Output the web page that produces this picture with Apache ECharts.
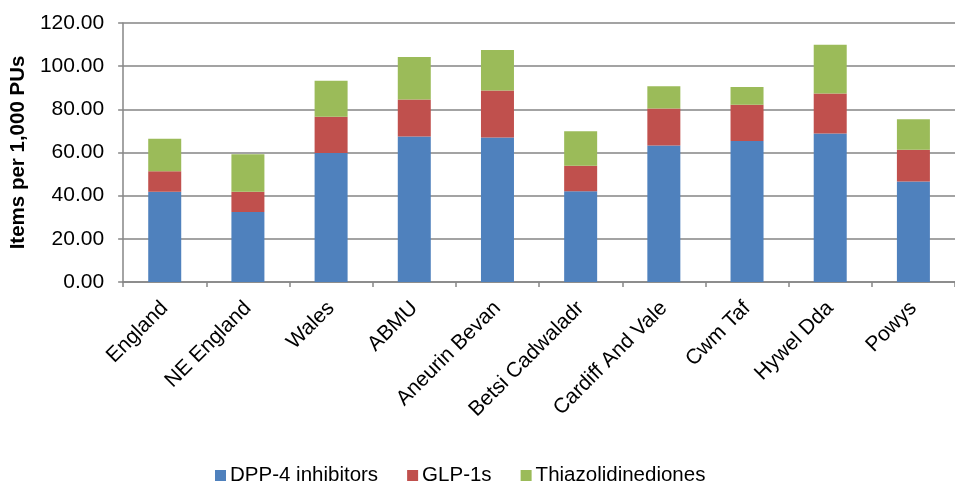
<!DOCTYPE html>
<html>
<head>
<meta charset="utf-8">
<script src="https://cdn.jsdelivr.net/npm/echarts@6/dist/echarts.min.js"></script>
<style>
html,body{margin:0;padding:0;background:#fff;}
#chart{width:955px;height:484px;}
</style>
</head>
<body>
<div id="chart"></div>
<script>
const categories = ["England","NE England","Wales","ABMU","Aneurin Bevan","Betsi Cadwaladr","Cardiff And Vale","Cwm Taf","Hywel Dda","Powys"];
const dpp4 = [41.8, 32.4, 59.8, 67.4, 67.0, 42.0, 63.3, 65.3, 68.8, 46.6];
const glp1 = [9.5, 9.4, 16.8, 17.1, 21.7, 11.9, 17.1, 16.8, 18.5, 14.7];
const tzd = [15.1, 17.4, 16.6, 19.7, 18.8, 15.9, 10.3, 8.2, 22.6, 14.1];
const seriesNames = ["DPP-4 inhibitors","GLP-1s","Thiazolidinediones"];
const colors = ["#4F81BD","#C0504D","#9BBB59"];
const yTitle = "Items per 1,000 PUs";

const font = "Liberation Sans, Arial, sans-serif";
const chart = echarts.init(document.getElementById('chart'));
const mk = (name, data, color) => ({
  name, type: 'bar', stack: 'total', data, barWidth: 33,
  itemStyle: {color}
});
chart.setOption({
  animation: false,
  color: colors,
  textStyle: {fontFamily: font},
  grid: {left: 123, top: 23, width: 842, height: 259, containLabel: false},
  legend: {
    left: 215, top: 465, padding: 0, itemWidth: 11, itemHeight: 11, itemGap: 29,
    icon: 'rect',
    textStyle: {fontFamily: font, fontSize: 20.5, color: '#000', padding: [0,0,0,-1]},
    data: seriesNames
  },
  xAxis: {
    type: 'category', data: categories,
    axisLine: {lineStyle: {color: '#868686', width: 1.5}},
    axisTick: {show: true, length: 5, lineStyle: {color: '#868686', width: 1.5}},
    axisLabel: {rotate: 45, margin: 23, fontSize: 21, color: '#000', fontFamily: font, interval: 0}
  },
  yAxis: {
    type: 'value', min: 0, max: 120, interval: 20,
    name: yTitle, nameLocation: 'middle', nameGap: 85,
    nameTextStyle: {fontSize: 20.5, fontWeight: 'bold', color: '#000', fontFamily: font},
    axisLine: {show: true, lineStyle: {color: '#868686', width: 1.5}},
    axisTick: {show: true, length: 5, lineStyle: {color: '#868686', width: 1.5}},
    axisLabel: {margin: 19, fontSize: 21, color: '#000', fontFamily: font,
      formatter: v => v.toFixed(2)},
    splitLine: {lineStyle: {color: '#858585', width: 1.5}}
  },
  series: [mk(seriesNames[0], dpp4, colors[0]), mk(seriesNames[1], glp1, colors[1]), mk(seriesNames[2], tzd, colors[2])]
});
</script>
</body>
</html>
